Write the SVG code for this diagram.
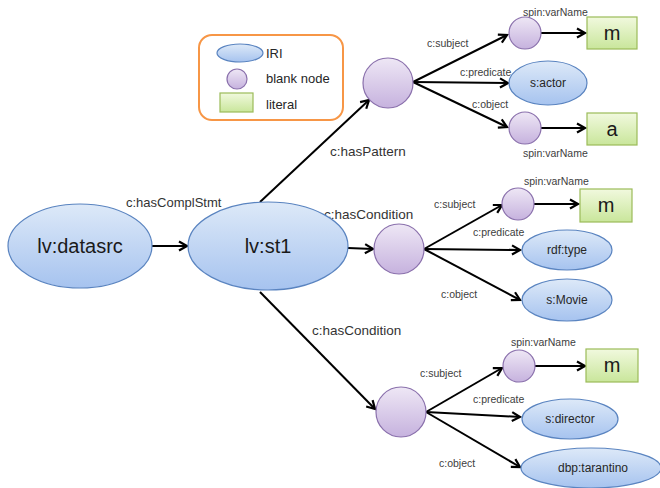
<svg xmlns="http://www.w3.org/2000/svg" width="660" height="488" viewBox="0 0 660 488">
<defs>
<linearGradient id="gIri" x1="0" y1="0" x2="0" y2="1">
<stop offset="0" stop-color="#dde9f8"/><stop offset="1" stop-color="#a6c3ef"/>
</linearGradient>
<linearGradient id="gBlank" x1="0" y1="0" x2="0" y2="1">
<stop offset="0" stop-color="#eee7f5"/><stop offset="1" stop-color="#c6b2de"/>
</linearGradient>
<linearGradient id="gLit" x1="0" y1="0" x2="0" y2="1">
<stop offset="0" stop-color="#f1f9de"/><stop offset="1" stop-color="#c9e69b"/>
</linearGradient>
<marker id="arr" markerUnits="userSpaceOnUse" markerWidth="14" markerHeight="14" refX="10" refY="6" orient="auto">
<path d="M2,1.5 L10,6 L2,10.5" fill="none" stroke="#000" stroke-width="2.2" stroke-linejoin="miter"/>
</marker>
</defs>
<style>
.iri{fill:url(#gIri);stroke:#5a84c0;stroke-width:1.2}
.bn{fill:url(#gBlank);stroke:#8a70ac;stroke-width:1.2}
.lit{fill:url(#gLit);stroke:#9bbb59;stroke-width:1.2}
.e{stroke:#000;stroke-width:2;fill:none;marker-end:url(#arr)}
text{font-family:"Liberation Sans",Arial,sans-serif}
.big{font-size:20px;fill:#1a1a1a;text-anchor:middle}
.mid{font-size:12px;fill:#262626;text-anchor:middle}
.lab{font-size:13.5px;fill:#333}
.sm{font-size:10.5px;fill:#404040}
.lg{font-size:13px;fill:#262626}
</style>

<g id="legend">
<rect x="199" y="35" width="144" height="85" rx="13" fill="#fff" stroke="#f79646" stroke-width="2"/>
<ellipse cx="240" cy="53" rx="23" ry="9" class="iri"/>
<circle cx="237" cy="79" r="10" class="bn"/>
<rect x="220" y="93" width="33" height="19" class="lit"/>
<text x="266" y="58" class="lg">IRI</text>
<text x="266" y="83" class="lg">blank node</text>
<text x="266" y="109" class="lg">literal</text>
</g>

<g id="connectors">
<line x1="152" y1="246" x2="187" y2="246" class="e"/>
<line x1="260" y1="202" x2="369" y2="100" class="e"/>
<line x1="348" y1="248" x2="373" y2="249" class="e"/>
<line x1="260" y1="292" x2="375" y2="409" class="e"/>
<line x1="413" y1="82" x2="507" y2="35" class="e"/>
<line x1="413" y1="82" x2="508" y2="83" class="e"/>
<line x1="413" y1="82" x2="507" y2="127" class="e"/>
<line x1="541" y1="33" x2="585" y2="33" class="e"/>
<line x1="541" y1="128" x2="585" y2="128" class="e"/>
<line x1="424" y1="249" x2="502" y2="205" class="e"/>
<line x1="424" y1="249" x2="520" y2="250" class="e"/>
<line x1="424" y1="249" x2="520" y2="300" class="e"/>
<line x1="534" y1="204" x2="578" y2="204" class="e"/>
<line x1="426" y1="412" x2="502" y2="368" class="e"/>
<line x1="426" y1="412" x2="520" y2="417" class="e"/>
<line x1="426" y1="412" x2="520" y2="467" class="e"/>
<line x1="535" y1="366" x2="585" y2="366" class="e"/>
<text x="126" y="207" class="lab" style="font-size:13px">c:hasComplStmt</text>
<text x="330" y="156" class="lab">c:hasPattern</text>
<text x="324" y="219" class="lab">c:hasCondition</text>
<text x="312" y="335" class="lab">c:hasCondition</text>
<text x="523" y="16" class="sm">spin:varName</text>
<text x="427" y="47" class="sm">c:subject</text>
<text x="460" y="76" class="sm">c:predicate</text>
<text x="472" y="108" class="sm">c:object</text>
<text x="523" y="157" class="sm">spin:varName</text>
<text x="524" y="185" class="sm">spin:varName</text>
<text x="434" y="208" class="sm">c:subject</text>
<text x="473" y="236" class="sm">c:predicate</text>
<text x="441" y="298" class="sm">c:object</text>
<text x="511" y="346" class="sm">spin:varName</text>
<text x="420" y="377" class="sm">c:subject</text>
<text x="473" y="403" class="sm">c:predicate</text>
<text x="439" y="467" class="sm">c:object</text>
</g>

<g id="datasrc"><ellipse cx="80" cy="246" rx="72" ry="42" class="iri"/><text x="80" y="253" class="big">lv:datasrc</text></g>
<g id="st1"><ellipse cx="268" cy="246" rx="80" ry="44" class="iri"/><text x="268" y="253" class="big">lv:st1</text></g>

<g id="bn1"><circle cx="388" cy="83" r="25" class="bn"/></g>
<g id="bn1s"><circle cx="525" cy="33" r="16" class="bn"/></g>
<g id="lit1m"><rect x="587" y="17" width="50" height="32" class="lit"/><text x="612" y="40" class="big">m</text></g>
<g id="actor"><ellipse cx="548" cy="83" rx="39" ry="22" class="iri"/><text x="548" y="87" class="mid">s:actor</text></g>
<g id="bn1o"><circle cx="525" cy="128" r="16" class="bn"/></g>
<g id="lit1a"><rect x="587" y="113" width="50" height="32" class="lit"/><text x="612" y="136" class="big">a</text></g>

<g id="bn2"><circle cx="399" cy="249" r="25" class="bn"/></g>
<g id="bn2s"><circle cx="518" cy="204" r="16" class="bn"/></g>
<g id="lit2m"><rect x="580" y="189" width="52" height="33" class="lit"/><text x="606" y="212" class="big">m</text></g>
<g id="rdftype"><ellipse cx="567" cy="250" rx="45" ry="20" class="iri"/><text x="567" y="254" class="mid">rdf:type</text></g>
<g id="movie"><ellipse cx="567" cy="300" rx="45" ry="21" class="iri"/><text x="567" y="304" class="mid">s:Movie</text></g>

<g id="bn3"><circle cx="401" cy="412" r="25" class="bn"/></g>
<g id="bn3s"><circle cx="519" cy="366" r="16" class="bn"/></g>
<g id="lit3m"><rect x="586" y="349" width="52" height="33" class="lit"/><text x="612" y="372" class="big">m</text></g>
<g id="director"><ellipse cx="570" cy="419" rx="48" ry="20" class="iri"/><text x="570" y="423" class="mid">s:director</text></g>
<g id="tarantino"><ellipse cx="591" cy="468" rx="70" ry="20" class="iri"/><text x="593" y="472" class="mid">dbp:tarantino</text></g>
</svg>
